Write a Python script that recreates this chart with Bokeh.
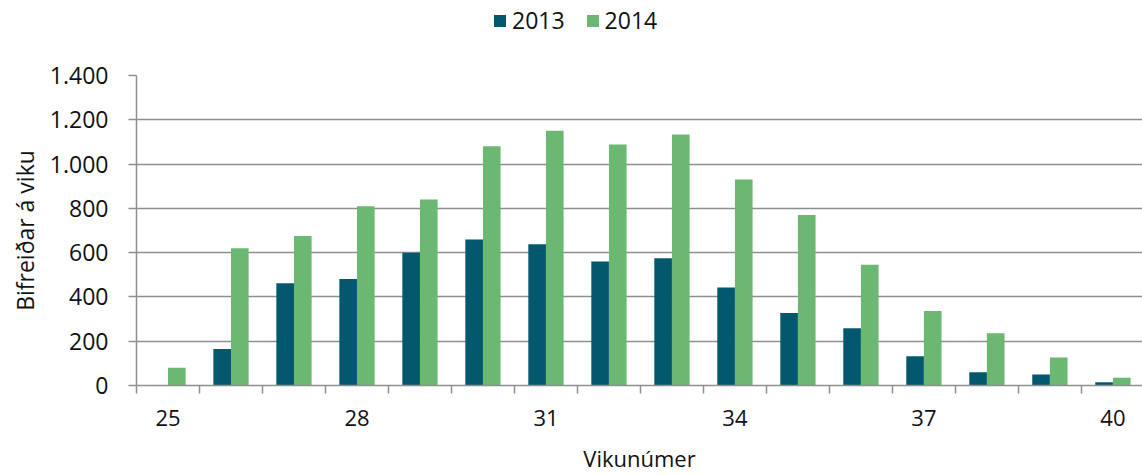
from bokeh.plotting import figure
from bokeh.layouts import column
from bokeh.models import Range1d, FixedTicker, Legend, LegendItem, ColumnDataSource, Title
from bokeh.embed import file_html
from bokeh.resources import INLINE

# ---- data ----
weeks = [25, 26, 27, 28, 29, 30, 31, 32, 33, 34, 35, 36, 37, 38, 39, 40]
labeled_weeks = [25, 28, 31, 34, 37, 40]
values_2013 = [0, 165, 462, 481, 600, 659, 638, 560, 575, 443, 327, 258, 132, 60, 50, 15]
values_2014 = [80, 620, 675, 810, 840, 1080, 1151, 1088, 1134, 930, 770, 545, 336, 236, 127, 35]
series_names = ["2013", "2014"]
y_ticks = [0, 200, 400, 600, 800, 1000, 1200, 1400]
y_tick_labels = ["0", "200", "400", "600", "800", "1.000", "1.200", "1.400"]
x_title = "Vikunúmer"
y_title = "Bifreiðar á viku"

# ---- styles ----
colors = ["#03586e", "#6ab872"]
FONT = "Open Sans"
TXT = "#111111"
GRID = "#8f8f8f"
bw = 0.28
W = 1142

idx = list(range(len(weeks)))
centers = [i + 0.5 for i in idx]
src = ColumnDataSource(dict(
    x13=[c - bw / 2 for c in centers],
    x14=[c + bw / 2 for c in centers],
    v13=values_2013,
    v14=values_2014,
))

# ---- legend strip on top ----
lg = figure(width=W, height=55, output_backend="svg", toolbar_location=None,
            x_axis_type=None, y_axis_type=None, x_range=Range1d(0, 1), y_range=Range1d(0, 1),
            min_border=0)
lg.outline_line_color = None
lg.grid.visible = False
d13 = lg.vbar(x="x13", top="v13", width=bw, source=src, fill_color=colors[0], line_color=None, visible=False)
d14 = lg.vbar(x="x14", top="v14", width=bw, source=src, fill_color=colors[1], line_color=None, visible=False)
legend = Legend(items=[LegendItem(label=series_names[0], renderers=[d13]),
                       LegendItem(label=series_names[1], renderers=[d14])],
                orientation="horizontal", location=(356, 19),
                glyph_width=15, glyph_height=15, label_standoff=5, spacing=20,
                padding=0, margin=0, border_line_color=None, background_fill_alpha=0,
                inactive_fill_alpha=0,
                label_text_font=FONT, label_text_font_size="23px", label_text_color=TXT)
lg.add_layout(legend, "center")

# ---- main chart ----
p = figure(width=W, height=420, output_backend="svg", toolbar_location=None,
           x_range=Range1d(0, 15.97), y_range=Range1d(0, y_ticks[-1]),
           min_border_left=131, min_border_right=0, min_border_top=20, min_border_bottom=89)
p.outline_line_color = None
p.background_fill_color = "white"
p.border_fill_color = "white"

p.vbar(x="x13", top="v13", width=bw, bottom=0, source=src, fill_color=colors[0], line_color=None)
p.vbar(x="x14", top="v14", width=bw, bottom=0, source=src, fill_color=colors[1], line_color=None)

# x axis: labels at centers of every third week, tick marks at category boundaries
label_pos = [centers[weeks.index(w)] for w in labeled_weeks]
p.xaxis.ticker = FixedTicker(ticks=label_pos, minor_ticks=[float(i) for i in range(len(weeks))])
p.xaxis.major_label_overrides = {pos: str(w) for pos, w in zip(label_pos, labeled_weeks)}
p.xaxis.major_tick_out = 0
p.xaxis.major_tick_in = 0
p.xaxis.minor_tick_out = 8
p.xaxis.minor_tick_in = 0
p.xaxis.minor_tick_line_color = GRID
p.xaxis.minor_tick_line_width = 1.5
p.xaxis.axis_line_color = GRID
p.xaxis.axis_line_width = 1.5
p.xaxis.major_label_standoff = 16
p.xaxis.axis_label = x_title
p.xaxis.axis_label_standoff = 14

# y axis
p.yaxis.ticker = FixedTicker(ticks=y_ticks, minor_ticks=[])
p.yaxis.major_label_overrides = {t: s for t, s in zip(y_ticks, y_tick_labels)}
p.yaxis.major_tick_out = 8
p.yaxis.major_tick_in = 0
p.yaxis.major_tick_line_color = GRID
p.yaxis.major_tick_line_width = 1.5
p.yaxis.axis_line_color = GRID
p.yaxis.axis_line_width = 1.5
p.yaxis.major_label_standoff = 20

for ax in (p.xaxis, p.yaxis):
    ax.major_label_text_font = FONT
    ax.major_label_text_font_size = "22px"
    ax.major_label_text_color = TXT
    ax.axis_label_text_font = FONT
    ax.axis_label_text_font_size = "22px"
    ax.axis_label_text_font_style = "normal"
    ax.axis_label_text_color = TXT
p.yaxis.major_label_text_font_size = "23px"

# y title as a side title centred on the plot frame
p.add_layout(Title(text=y_title, align="center", text_font=FONT, text_font_size="23px",
                   text_font_style="normal", text_color=TXT, standoff=12), "left")

p.xgrid.grid_line_color = None
p.ygrid.grid_line_color = GRID
p.ygrid.grid_line_width = 1.5

layout = column(lg, p, spacing=0)
open("out.html", "w").write(file_html(layout, INLINE))
